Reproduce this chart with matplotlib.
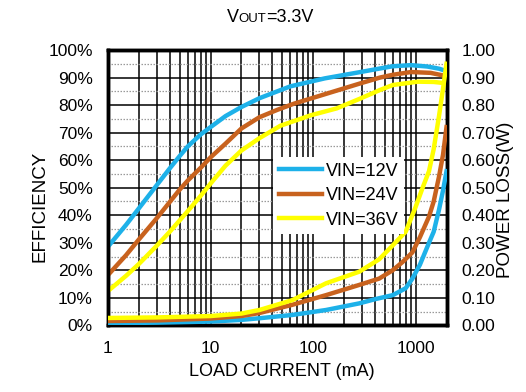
import numpy as np
import matplotlib
matplotlib.use("Agg")
import matplotlib.pyplot as plt
from matplotlib.ticker import FixedLocator, MultipleLocator, NullFormatter
from matplotlib.offsetbox import TextArea, HPacker, AnchoredOffsetbox

plt.rcParams['font.family'] = ['Liberation Sans', 'DejaVu Sans']

# ===================== data =====================
# efficiency (%) vs load current (mA)
eff12_x = [1, 1.5, 2, 3, 4, 5, 6, 8, 10, 14, 20, 30, 60, 130, 290, 450, 600, 900, 1300, 1700, 2000]
eff12_y = [28.6, 36.5, 42.5, 51, 57, 61.5, 65, 69.3, 72, 76, 79.3, 82.5, 86.8, 89.7, 92, 93.3, 94.1, 94.5, 94, 93.2, 92.3]

eff24_x = [1, 1.5, 2, 3, 4, 5, 6, 8, 10, 14, 20, 30, 45, 65, 140, 290, 450, 600, 900, 1400, 2000]
eff24_y = [18.3, 25.5, 31.2, 39, 44.8, 49.3, 52.6, 57.2, 61, 66, 71.5, 75.6, 78.3, 80.5, 84.3, 87.9, 90, 91, 92, 91.7, 90.5]

eff36_x = [1, 1.5, 2, 3, 4, 6, 8, 10, 14, 20, 30, 48, 95, 170, 290, 450, 600, 1050, 1500, 2000]
eff36_y = [12.5, 18, 22.3, 29, 34, 41.5, 47, 51.5, 58, 63.5, 68, 72.5, 76.3, 78.8, 82.4, 85.5, 87.3, 88.5, 88.4, 87.9]

# power loss (W) vs load current (mA)
loss12_x = [1, 3, 10, 20, 30, 63, 134, 282, 410, 600, 800, 930, 1100, 1350, 1500, 1690, 1850, 2000]
loss12_y = [0.008, 0.01, 0.014, 0.02, 0.026, 0.038, 0.056, 0.08, 0.096, 0.11, 0.135, 0.17, 0.22, 0.3, 0.34, 0.42, 0.49, 0.56]

loss24_x = [1, 3, 10, 20, 30, 63, 134, 282, 441, 596, 745, 930, 1100, 1350, 1500, 1690, 1850, 2000]
loss24_y = [0.016, 0.018, 0.025, 0.034, 0.045, 0.075, 0.11, 0.147, 0.17, 0.2, 0.23, 0.265, 0.32, 0.395, 0.45, 0.54, 0.62, 0.72]

loss36_x = [1, 3, 10, 20, 30, 63, 134, 282, 441, 596, 800, 1000, 1170, 1350, 1500, 1690, 1850, 2000]
loss36_y = [0.027, 0.029, 0.034, 0.043, 0.056, 0.092, 0.153, 0.195, 0.24, 0.29, 0.34, 0.43, 0.5, 0.56, 0.64, 0.76, 0.86, 0.95]

labels = ["VIN=12V", "VIN=24V", "VIN=36V"]
colors = ["#1DB1E9", "#C8621E", "#FFFF00"]

x_ticks = [1, 10, 100, 1000]
eff_ticks = list(range(0, 101, 10))
loss_ticks = [i / 10 for i in range(11)]

# ===================== figure =====================
fig = plt.figure(figsize=(5.26, 3.92), dpi=100)
ax = fig.add_axes([108 / 526, 1 - 325.4 / 392, 338.5 / 526, 275.4 / 392])
ax2 = ax.twinx()

lw = 3.2
for xs, ys, c, lab in zip([eff12_x, eff24_x, eff36_x], [eff12_y, eff24_y, eff36_y], colors, labels):
    ax.plot(xs, ys, color=c, lw=lw, label=lab, solid_joinstyle='round', zorder=3)
for xs, ys, c in zip([loss12_x, loss24_x, loss36_x], [loss12_y, loss24_y, loss36_y], colors):
    ax2.plot(xs, ys, color=c, lw=lw, solid_joinstyle='round', zorder=3)

ax.set_xscale('log')
ax.set_xlim(1, 2000)
ax.set_ylim(0, 100)
ax2.set_ylim(0, 1.0)

ax.xaxis.set_major_locator(FixedLocator(x_ticks))
ax.set_xticklabels([str(v) for v in x_ticks])
minors = [m * 10 ** d for d in range(4) for m in range(2, 10) if m * 10 ** d < 2000]
ax.xaxis.set_minor_locator(FixedLocator(minors))
ax.xaxis.set_minor_formatter(NullFormatter())

ax.set_yticks(eff_ticks)
ax.set_yticklabels([f"{v}%" for v in eff_ticks])
ax.yaxis.set_minor_locator(MultipleLocator(5))
ax2.set_yticks(loss_ticks)
ax2.set_yticklabels([f"{v:.2f}" for v in loss_ticks])

ax.set_axisbelow(True)
ax.grid(True, which='major', axis='both', color='black', lw=1.1)
ax.grid(True, which='minor', axis='x', color='black', lw=1.1)
ax.grid(True, which='minor', axis='y', color='#9a9a9a', lw=0.9, ls=(0, (1.2, 1.2)))

for a in (ax, ax2):
    a.tick_params(which='both', length=0, labelsize=12.5, pad=11, colors='black')
    for s in a.spines.values():
        s.set_linewidth(2.5)
        s.set_color('black')

leg = ax2.legend(handles=ax.get_lines(), loc='upper left', bbox_to_anchor=(0.488, 0.611),
                 borderaxespad=0, frameon=True, fancybox=False, framealpha=1,
                 edgecolor='none', facecolor='white', fontsize=13,
                 handlelength=2.4, handletextpad=0.2, labelspacing=0.42, borderpad=0.3)
leg.set_zorder(5)

fig.text(40 / 526, 1 - 206 / 392, "EFFICIENCY", rotation=90, ha='center', va='center', fontsize=13.5)
fig.text(505 / 526, 1 - 200 / 392, "POWER LOSS(W)", rotation=90, ha='center', va='center', fontsize=13.5)
fig.text(282 / 526, 1 - 371 / 392, "LOAD CURRENT (mA)", ha='center', va='center', fontsize=13)

title = HPacker(children=[TextArea("V", textprops=dict(fontsize=13)),
                          TextArea("OUT", textprops=dict(fontsize=9.5)),
                          TextArea("=3.3V", textprops=dict(fontsize=13))],
                align="baseline", pad=0, sep=0)
box = AnchoredOffsetbox(loc='center', child=title, frameon=False, pad=0, borderpad=0,
                        bbox_to_anchor=(270 / 526, 1 - 18 / 392), bbox_transform=fig.transFigure)
fig.add_artist(box)

fig.savefig("out.png", dpi=100)
